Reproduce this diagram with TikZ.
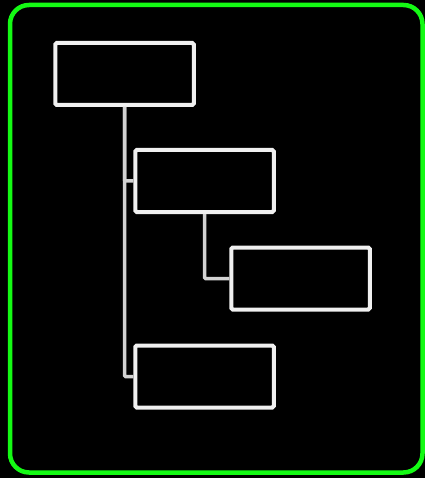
\documentclass[tikz,border=0pt]{standalone}
\usepackage{xcolor}
\definecolor{frame}{HTML}{14FA14}
\definecolor{boxline}{HTML}{F0F0F0}
\definecolor{wire}{HTML}{D2D2D2}

\begin{document}
\begin{tikzpicture}[x=1pt, y=-1pt]
  % page = 425 x 478, black all over
  \useasboundingbox (0,0) rectangle (425,478);
  \fill[black] (0,0) rectangle (425,478);
  \tikzset{
    treebox/.style={draw=boxline, line width=4pt, fill=black,
                    minimum width=138.5pt, minimum height=62pt, inner sep=0pt,
                    rounded corners=1.5pt},
    branch/.style={draw=wire, line width=3.5pt, rounded corners=1pt}}

  % the green frame round everything
  \draw[frame, line width=4.5pt, rounded corners=19pt] (10,5) rectangle (422.5,472.5);

  % ========== the boxes, one level indented per generation ==========
  \node[treebox] (root)   at (124.5,74)    {};
  \node[treebox] (childA) at (204.5,181)   {};
  \node[treebox] (leaf)   at (300.5,278.5) {};
  \node[treebox] (childB) at (204.5,376.5) {};

  % --- elbows, drawn under nothing: they stop at the box edges
  \draw[branch] (root.south)   |- (childA.west);
  \draw[branch] (root.south)   |- (childB.west);
  \draw[branch] (childA.south) |- (leaf.west);
\end{tikzpicture}
\end{document}
